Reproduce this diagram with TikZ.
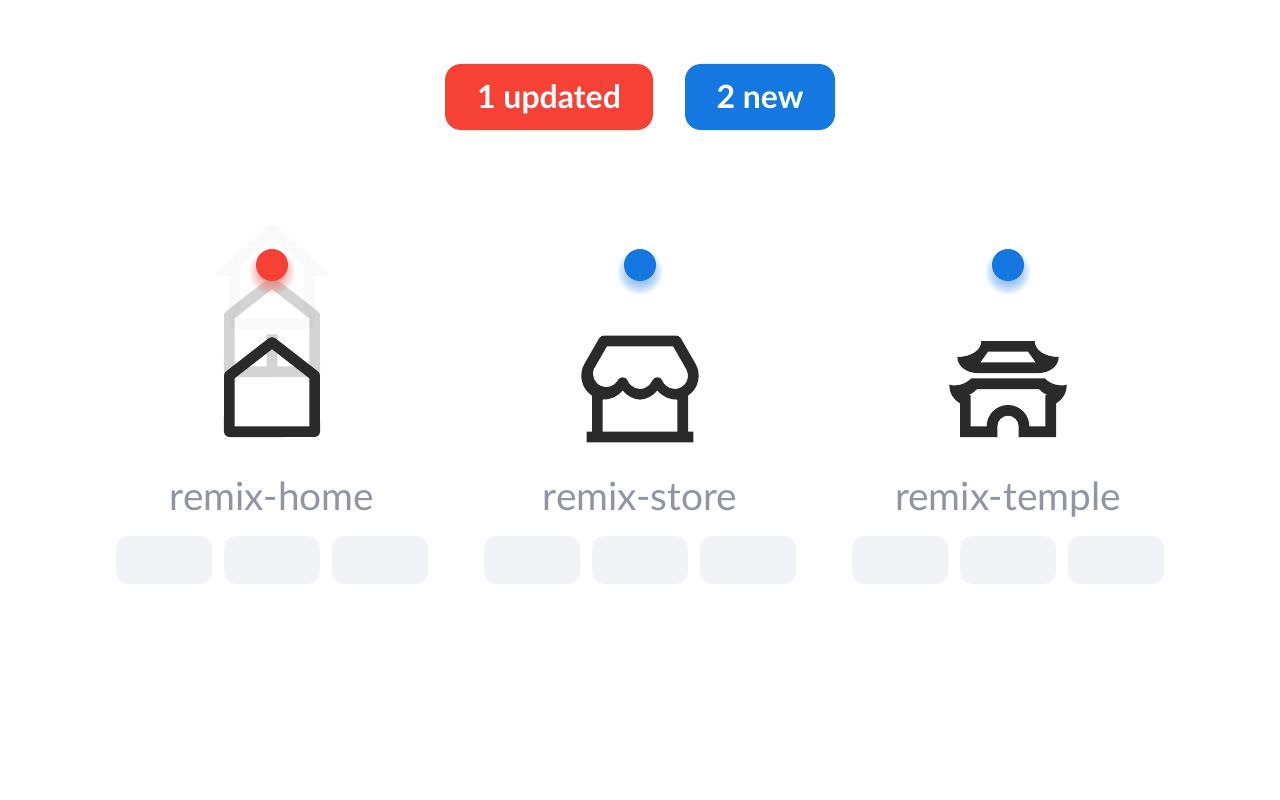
\documentclass[tikz,border=0pt]{standalone}
\usepackage{fontspec}
\setmainfont{Lato}
\usetikzlibrary{svg.path}
\definecolor{cred}{HTML}{F64236}
\definecolor{cblue}{HTML}{1478E0}
\definecolor{cdark}{HTML}{2A2A2A}
\definecolor{ctext}{HTML}{9095A5}
\definecolor{cchip}{HTML}{F2F3F7}
\tikzset{
  x=1pt,y=-1pt,
  badge/.style={fill=#1,rounded corners=16pt,draw=none},
  badgetext/.style={text=white,font=\fontsize{32}{36}\selectfont\bfseries,inner sep=0pt,anchor=base},
  nametext/.style={text=ctext,font=\fontsize{38.8}{44}\selectfont,inner sep=0pt,anchor=base},
  chip/.style={fill=cchip,rounded corners=12pt,draw=none},
  icon/.style={fill=cdark,even odd rule,draw=none},
  dot/.style={fill=#1,draw=none},
  glow/.style={fill=#1,draw=none,opacity=0.04},
}
\newcommand{\dotat}[3]{%
  \foreach \r in {8,...,23}{\fill[glow=#3] (#1,272) circle[radius=\r];}
  \node[circle,dot=#3,minimum size=32pt,inner sep=0pt] (#2) at (#1,265) {};
}
\newcommand{\chips}[2]{%
  \foreach \k in {0,1,2}{\path[chip] (#1+108*\k,536) rectangle ++(96,48);}
}
\begin{document}
\begin{tikzpicture}
\useasboundingbox (0,0) rectangle (1280,800);
\fill[white] (0,0) rectangle (1280,800);
% badges
\path[badge=cred] (445,64) rectangle (653,130);
\path[badge=cblue] (685,64) rectangle (835,130);
\node[badgetext] (t1) at (549,108.5) {1 updated};
\node[badgetext] (t2) at (760,108.5) {2 new};
% home ghosts
\begin{scope}[shift={(208,217)},xscale=5.3333,yscale=-5.3333]
\fill[fill=black,opacity=0.025,even odd rule] svg {M19 21H5a1 1 0 0 1-1-1v-9H1l10.327-9.388a1 1 0 0 1 1.346 0L23 11h-3v9a1 1 0 0 1-1 1z M6 19h12V9.157l-6-5.454-6 5.454V19z};
\end{scope}
\begin{scope}[shift={(208,265)},xscale=5.3333,yscale=-5.3333]
\fill[fill=cdark,opacity=0.2,even odd rule] svg {M21 20a1 1 0 0 1-1 1H4a1 1 0 0 1-1-1V9.49a1 1 0 0 1 .386-.79l8-6.222a1 1 0 0 1 1.228 0l8 6.222a1 1 0 0 1 .386.79V20z M19 19V9.978l-7-5.444-7 5.444V19H11V13H13V19z};
\end{scope}
\begin{scope}[shift={(208,325)},xscale=5.3333,yscale=-5.3333]
\fill[icon] svg {M21 20a1 1 0 0 1-1 1H4a1 1 0 0 1-1-1V9.49a1 1 0 0 1 .386-.79l8-6.222a1 1 0 0 1 1.228 0l8 6.222a1 1 0 0 1 .386.79V20z M19 19V9.978l-7-5.444-7 5.444V19z};
\end{scope}
% store
\begin{scope}[shift={(576,325)},xscale=5.3333,yscale=-5.3333]
\fill[icon] svg {M21 13.242V20h1v2H2v-2h1v-6.758A4.49 4.49 0 0 1 1 9.5c0-.827.224-1.624.633-2.303L4.345 2.5a1 1 0 0 1 .866-.5H18.79a1 1 0 0 1 .866.5l2.702 4.697A4.5 4.5 0 0 1 23 9.5A4.49 4.49 0 0 1 21 13.242z M19 13.972a4.496 4.496 0 0 1-3.75-1.72 4.49 4.49 0 0 1-3.25 1.748 4.49 4.49 0 0 1-3.25-1.749A4.49 4.49 0 0 1 5 13.972V20h14z M5.789 4L3.356 8.213a2.5 2.5 0 0 0 4.466 2.216c.335-.837 1.52-.837 1.856 0a2.5 2.5 0 0 0 4.644 0c.335-.837 1.52-.837 1.856 0a2.5 2.5 0 1 0 4.457-2.232L18.21 4H5.79z};
\end{scope}
% temple
\begin{scope}[shift={(944,325)},xscale=5.3333,yscale=-5.3333]
\fill[icon] svg {M7 3H17C17 4.8 19 6 21.5 6C21.5 7.8 19.6 9 17.8 9H6.2C4.4 9 2.5 7.8 2.5 6C5 6 7 4.8 7 3Z M8.25 5H15.75L17.2 7H6.8Z
M5.1 10H18.9C19.8 11 21.5 11.6 23 11.2C23 12.8 22.2 14 21 14.7V21H14V19C14 17.9 13.1 17 12 17C10.9 17 10 17.9 10 19V21H3V14.7C1.8 14 1 12.8 1 11.2C2.5 11.6 4.2 11 5.1 10Z
M6.2 12C5.8 12.4 5.4 12.8 4.6 13.1L5 13.2V19H8C8 16.8 9.8 15 12 15C14.2 15 16 16.8 16 19H19V13.2L19.4 13.1C18.6 12.8 18.2 12.4 17.8 12Z};
\end{scope}
% dots
\dotat{272}{d1}{cred}
\dotat{640}{d2}{cblue}
\dotat{1008}{d3}{cblue}
% labels
\node[nametext] (n1) at (272,510) {remix-home};
\node[nametext] (n2) at (640,510) {remix-store};
\node[nametext] (n3) at (1008,510) {remix-temple};
% chips
\chips{116}{a}
\chips{484}{b}
\chips{852}{c}
\end{tikzpicture}
\end{document}
